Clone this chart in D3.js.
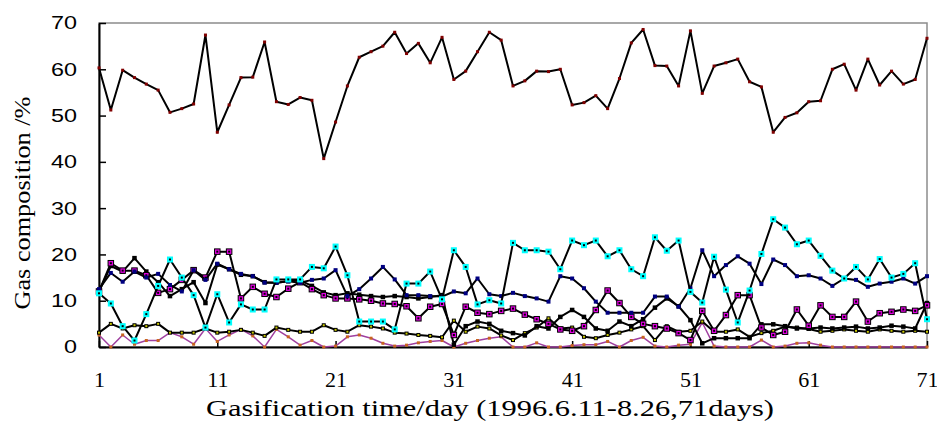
<!DOCTYPE html>
<html>
<head>
<meta charset="utf-8">
<script src="https://cdn.jsdelivr.net/npm/d3@7"></script>
<style>
  body { margin: 0; background: #fff; }
  svg { display: block; }
</style>
</head>
<body>
<div id="chart"></div>
<script>
// gasification days 1..71
const days = [1, 2, 3, 4, 5, 6, 7, 8, 9, 10, 11, 12, 13, 14, 15, 16, 17, 18, 19, 20,
  21, 22, 23, 24, 25, 26, 27, 28, 29, 30, 31, 32, 33, 34, 35, 36, 37, 38, 39, 40,
  41, 42, 43, 44, 45, 46, 47, 48, 49, 50, 51, 52, 53, 54, 55, 56, 57, 58, 59, 60,
  61, 62, 63, 64, 65, 66, 67, 68, 69, 70, 71]
const xTicks = [1, 11, 21, 31, 41, 51, 61, 71]
const yTicks = [0, 10, 20, 30, 40, 50, 60, 70]

// series values (%)
const ch4 = [60.3, 51.2, 59.8, 58.2, 56.8, 55.5, 50.7, 51.5, 52.5, 67.4,
  46.4, 52.3, 58.2, 58.3, 65.9, 53.0, 52.4, 53.9, 53.3, 40.7,
  48.6, 56.4, 62.6, 63.8, 65.0, 68.0, 63.4, 65.6, 61.4, 66.9,
  57.8, 59.6, 63.8, 68.0, 66.3, 56.4, 57.5, 59.6, 59.5, 60.0,
  52.3, 52.8, 54.3, 51.5, 58.0, 65.7, 68.6, 60.8, 60.7, 56.4,
  68.3, 54.8, 60.7, 61.4, 62.2, 57.3, 56.2, 46.4, 49.6, 50.6,
  53.0, 53.2, 60.0, 61.1, 55.5, 62.2, 56.6, 59.6, 56.8, 57.8,
  66.7]
const cyanVals = [11.6, 9.4, 4.5, 1.4, 7.1, 13.2, 18.9, 15.0, 11.2, 4.2,
  11.4, 5.3, 9.2, 8.1, 8.1, 14.6, 14.6, 14.6, 17.3, 17.0,
  21.7, 15.5, 5.5, 5.5, 5.5, 3.8, 13.7, 13.7, 16.3, 10.3,
  20.9, 17.3, 9.2, 10.1, 9.4, 22.5, 20.9, 20.9, 20.6, 16.8,
  23.0, 22.0, 23.0, 19.6, 20.9, 16.8, 15.3, 23.7, 20.8, 23.0,
  11.9, 9.6, 19.5, 12.4, 5.3, 12.2, 20.1, 27.6, 25.8, 22.2,
  23.0, 19.7, 16.5, 14.8, 17.3, 14.6, 19.0, 15.0, 15.8, 18.1,
  6.0]
const navyVals = [12.5, 16.0, 14.1, 16.3, 15.0, 15.8, 13.4, 12.0, 16.6, 14.5,
  18.0, 16.8, 15.8, 15.3, 13.9, 13.9, 14.2, 13.9, 14.5, 14.8,
  16.6, 11.0, 12.5, 14.8, 17.3, 14.6, 11.2, 11.2, 11.0, 10.9,
  12.0, 11.6, 14.8, 11.4, 11.0, 11.7, 11.0, 10.5, 9.8, 15.3,
  14.8, 12.7, 9.8, 7.4, 7.4, 7.4, 7.4, 10.9, 10.9, 8.7,
  12.7, 20.9, 15.3, 17.7, 19.6, 18.0, 13.6, 18.9, 17.7, 15.3,
  15.5, 14.8, 13.2, 14.8, 14.5, 13.0, 13.7, 14.1, 14.8, 13.7,
  15.3]
const magentaVals = [12.0, 18.1, 16.5, 16.5, 15.5, 11.7, 12.5, 14.5, 16.6, 15.0,
  20.6, 20.6, 10.5, 13.0, 11.5, 10.8, 12.6, 14.0, 12.5, 11.2,
  10.5, 10.5, 10.3, 10.0, 9.4, 9.3, 8.8, 6.2, 8.7, 9.3,
  2.6, 8.7, 7.4, 7.1, 7.8, 8.3, 7.0, 6.0, 5.0, 3.8,
  3.5, 4.5, 8.0, 12.2, 9.5, 6.5, 5.0, 4.5, 4.0, 3.0,
  1.5, 7.8, 3.5, 6.9, 11.2, 11.2, 4.2, 2.6, 3.3, 8.1,
  4.6, 9.0, 6.5, 6.5, 9.8, 5.5, 7.3, 7.6, 8.1, 7.8,
  9.0]
const blackVals = [12.0, 17.5, 16.3, 19.2, 16.3, 14.0, 11.0, 12.5, 14.0, 9.5,
  17.8, 16.8, 15.6, 15.3, 14.0, 13.9, 14.2, 14.4, 13.2, 11.8,
  11.2, 11.6, 11.3, 11.0, 10.8, 11.0, 10.8, 10.5, 10.8, 11.2,
  0.5, 4.5, 5.5, 5.0, 3.5, 3.0, 2.5, 4.5, 4.0, 6.5,
  8.0, 6.5, 4.0, 3.5, 5.5, 4.5, 6.0, 8.5, 10.5, 8.8,
  5.8, 0.8, 1.9, 1.9, 1.9, 1.9, 4.9, 4.9, 4.5, 4.0,
  4.0, 4.2, 4.0, 4.2, 4.4, 4.0, 4.2, 4.6, 4.4, 4.0,
  9.5]
const oliveVals = [3.1, 5.0, 4.0, 4.7, 4.5, 5.0, 3.1, 3.1, 3.1, 4.0,
  3.1, 3.3, 3.7, 3.1, 2.4, 4.2, 3.7, 3.3, 3.3, 4.7,
  3.7, 3.3, 4.7, 4.4, 4.0, 3.1, 2.9, 2.6, 2.4, 2.1,
  5.7, 3.3, 4.4, 4.0, 2.5, 1.5, 3.0, 4.2, 6.2, 4.0,
  4.2, 2.2, 1.9, 2.6, 3.1, 3.8, 4.5, 1.5, 4.5, 3.3,
  3.5, 5.5, 3.3, 3.3, 3.8, 2.2, 3.0, 3.5, 4.4, 4.2,
  3.9, 3.3, 3.5, 3.8, 3.5, 3.3, 3.8, 3.5, 3.3, 3.5,
  3.3]
const purpleVals = [2.6, 0.0, 2.6, 0.6, 1.4, 1.4, 3.1, 2.2, 0.6, 4.0,
  1.2, 2.6, 3.8, 2.4, 0.0, 3.8, 2.2, 0.4, 1.4, 0.0,
  0.2, 2.2, 2.6, 1.9, 0.8, 0.2, 0.4, 0.9, 1.2, 1.4,
  0.0, 0.8, 1.4, 1.9, 2.2, 0.0, 0.0, 0.9, 0.0, 0.0,
  0.3, 0.5, 0.5, 1.2, 0.0, 1.4, 2.1, 0.2, 0.0, 0.4,
  0.6, 5.3, 0.2, 0.0, 0.0, 0.0, 1.5, 0.0, 0.2, 0.8,
  0.9, 0.4, 0.0, 0.0, 0.0, 0.0, 0.0, 0.0, 0.0, 0.0,
  0.0]

const width = 937
const height = 423
const margin = { left: 99, right: 10, top: 23, bottom: 76 }

const svg = d3.select('#chart')
  .append('svg')
  .attr('width', width)
  .attr('height', height)

const x = d3.scaleLinear()
  .domain([1, 71])
  .range([margin.left, width - margin.right])
const y = d3.scaleLinear()
  .domain([0, 70])
  .range([height - margin.bottom, margin.top])

// frame: grey top / right, black axes
svg.append('rect')
  .attr('x', margin.left)
  .attr('y', margin.top)
  .attr('width', width - margin.left - margin.right)
  .attr('height', height - margin.top - margin.bottom)
  .attr('fill', 'none')
  .attr('stroke', '#8c8c8c')
  .attr('stroke-width', 1.5)

// the original text is a little stretched sideways, so widths are fixed with textLength
const yAxis = svg.append('g')
  .attr('transform', `translate(${margin.left},0)`)
  .call(d3.axisLeft(y).tickValues(yTicks).tickSizeInner(-7).tickSizeOuter(0).tickPadding(22))
yAxis.select('.domain').attr('stroke', '#000').attr('stroke-width', 2)
yAxis.selectAll('.tick line').attr('stroke', '#000').attr('stroke-width', 1.5)
yAxis.selectAll('.tick text')
  .attr('font-family', '"Liberation Sans", Arial, sans-serif')
  .attr('font-size', 18.5)
  .attr('fill', '#000')
  .attr('textLength', d => String(d).length * 13)
  .attr('lengthAdjust', 'spacingAndGlyphs')

const xAxis = svg.append('g')
  .attr('transform', `translate(0,${height - margin.bottom})`)
  .call(d3.axisBottom(x).tickValues(xTicks).tickSizeInner(-6).tickSizeOuter(0).tickPadding(24))
xAxis.select('.domain').attr('stroke', '#000').attr('stroke-width', 2)
xAxis.selectAll('.tick line').attr('stroke', '#000').attr('stroke-width', 1.5)
xAxis.selectAll('.tick text')
  .attr('font-family', '"Liberation Serif", "Times New Roman", serif')
  .attr('font-size', 22)
  .attr('fill', '#000')

// axis titles
svg.append('text')
  .attr('x', 490)
  .attr('y', 416)
  .attr('text-anchor', 'middle')
  .attr('font-family', '"Liberation Serif", "Times New Roman", serif')
  .attr('font-size', 23)
  .attr('textLength', 568)
  .attr('lengthAdjust', 'spacingAndGlyphs')
  .text('Gasification time/day (1996.6.11-8.26,71days)')

svg.append('text')
  .attr('transform', 'translate(30,203) rotate(-90)')
  .attr('text-anchor', 'middle')
  .attr('font-family', '"Liberation Serif", "Times New Roman", serif')
  .attr('font-size', 23)
  .attr('textLength', 213)
  .attr('lengthAdjust', 'spacingAndGlyphs')
  .text('Gas composition /%')

const plot = svg.append('g')

function drawSeries (values, lineColor, lineWidth, marker) {
  const pts = days.map((d, i) => ({ day: d, v: values[i] }))
  const line = d3.line().x(d => x(d.day)).y(d => y(d.v))
  plot.append('path')
    .datum(pts)
    .attr('d', line)
    .attr('fill', 'none')
    .attr('stroke', lineColor)
    .attr('stroke-width', lineWidth)
    .attr('stroke-linejoin', 'round')

  const s = marker.size
  plot.append('g')
    .selectAll('rect')
    .data(pts)
    .enter()
    .append('rect')
    .attr('x', d => x(d.day) - s / 2)
    .attr('y', d => y(d.v) - s / 2)
    .attr('width', s)
    .attr('height', s)
    .attr('fill', marker.fill)
    .attr('stroke', marker.stroke || 'none')
    .attr('stroke-width', 1)

  if (marker.dot) {
    plot.append('g')
      .selectAll('rect')
      .data(pts)
      .enter()
      .append('rect')
      .attr('x', d => x(d.day) - 1)
      .attr('y', d => y(d.v) - 1)
      .attr('width', 2)
      .attr('height', 2)
      .attr('fill', marker.dot)
  }
}

drawSeries(purpleVals, '#a040a0', 1.5, { size: 3, fill: '#c86420' })
drawSeries(oliveVals, '#000', 2, { size: 4, fill: '#000', dot: '#c8c800' })
drawSeries(blackVals, '#000', 2, { size: 4.5, fill: '#000' })
drawSeries(magentaVals, '#000', 2, { size: 5.5, fill: '#e000e0', stroke: '#000', dot: '#000' })
drawSeries(navyVals, '#000', 2, { size: 4, fill: '#000080' })
drawSeries(cyanVals, '#000', 2, { size: 6, fill: '#00ffff', dot: '#000' })
drawSeries(ch4, '#000', 2, { size: 3, fill: '#800000' })
</script>
</body>
</html>
